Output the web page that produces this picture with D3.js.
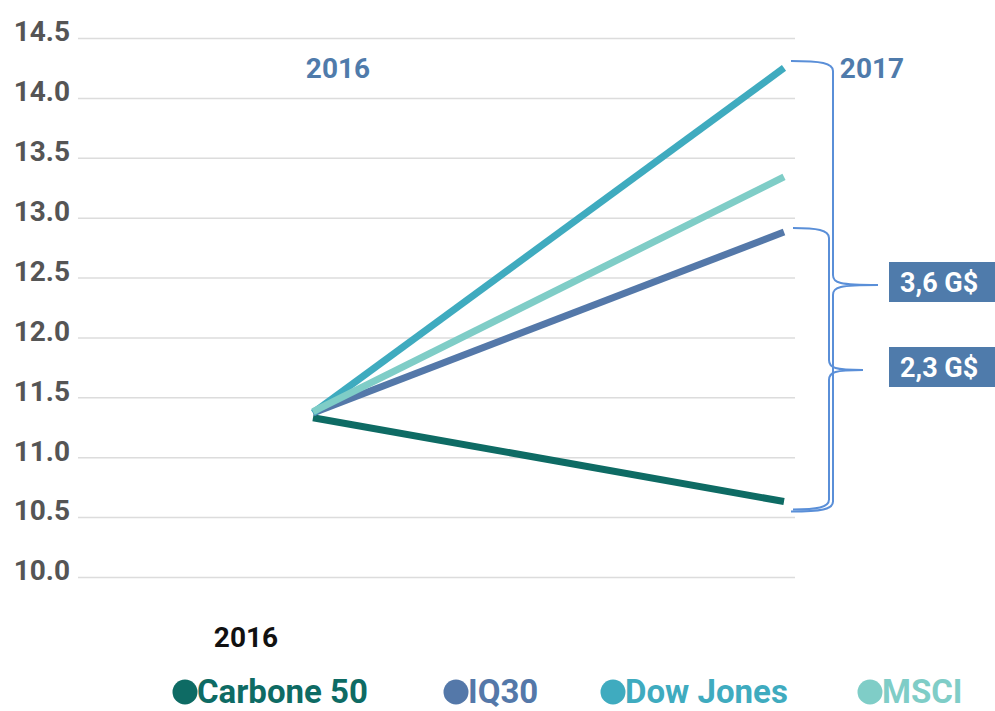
<!DOCTYPE html>
<html>
<head>
<meta charset="utf-8">
<script src="https://cdn.jsdelivr.net/npm/d3@7/dist/d3.min.js"></script>
<style>
  body { margin: 0; background: #fff; }
  svg { display: block; font-family: Roboto, "DejaVu Sans", sans-serif; font-weight: 700; }
</style>
</head>
<body>
<svg id="chart" width="995" height="711"></svg>
<script>
// data
var years = ["2016", "2017"];
var seriesNames = ["Carbone 50", "IQ30", "Dow Jones", "MSCI"];
var carbone50 = [11.33, 10.63];
var iq30 = [11.37, 12.88];
var dowJones = [11.37, 14.25];
var msci = [11.38, 13.34];
var seriesColors = ["#0e6b64", "#5478a9", "#3fabbf", "#7fcdc7"];
var yTicks = [10.0, 10.5, 11.0, 11.5, 12.0, 12.5, 13.0, 13.5, 14.0, 14.5];
var gapLabels = ["3,6 G$", "2,3 G$"];

var svg = d3.select("#chart");

var x = d3.scalePoint().domain(years).range([313, 784]);
var y = d3.scaleLinear().domain([10, 14.5]).range([577, 38]);

// grid + y labels
var yAxis = d3.axisLeft(y).tickValues(yTicks).tickFormat(d3.format(".1f"))
    .tickSize(-(795 - 78)).tickPadding(8);
var gy = svg.append("g").attr("transform", "translate(78,0)").call(yAxis);
gy.select(".domain").remove();
gy.selectAll(".tick line").attr("stroke", "#dcdcdc").attr("stroke-width", 1.5);
gy.selectAll(".tick text").attr("fill", "#555").attr("font-size", 28)
    .attr("font-family", "Roboto, sans-serif").attr("font-weight", 700).attr("dy", "0.1em");

// lines
var allSeries = [carbone50, iq30, dowJones, msci];
var line = d3.line().x(function(d, i){ return x(years[i]); }).y(function(d){ return y(d); });
allSeries.forEach(function(s, i){
    svg.append("path").attr("d", line(s)).attr("fill", "none")
        .attr("stroke", seriesColors[i]).attr("stroke-width", 7);
});

// year labels
svg.append("text").attr("x", x("2016") + 25).attr("y", 78).attr("text-anchor", "middle")
    .attr("fill", "#4f7bab").attr("font-size", 28).text("2016");
svg.append("text").attr("x", x("2017") + 88).attr("y", 78).attr("text-anchor", "middle")
    .attr("fill", "#4f7bab").attr("font-size", 28).text("2017");
svg.append("text").attr("x", 246).attr("y", 647).attr("text-anchor", "middle")
    .attr("fill", "#111").attr("font-size", 28).text("2016");

// curly brackets
function brace(x0, top, bottom, xv, tipX, tipY){
    var r = 10;
    var p = d3.path();
    p.moveTo(x0, top);
    p.bezierCurveTo(xv - 12, top, xv, top + 2, xv, top + r);
    p.lineTo(xv, tipY - 10);
    p.bezierCurveTo(xv, tipY - 2, xv + 6, tipY, tipX, tipY);
    p.bezierCurveTo(xv + 6, tipY, xv, tipY + 2, xv, tipY + 10);
    p.lineTo(xv, bottom - r);
    p.bezierCurveTo(xv, bottom - 2, xv - 12, bottom, x0, bottom);
    return p.toString();
}
var xe = x("2017");
svg.append("path")
    .attr("d", brace(xe + 7, y(dowJones[1]) - 7, y(carbone50[1]) + 10, xe + 49, xe + 94, 285))
    .attr("fill", "none").attr("stroke", "#5a8fd8").attr("stroke-width", 2);
svg.append("path")
    .attr("d", brace(xe + 9, y(iq30[1]) - 4, y(carbone50[1]) + 8, xe + 45, xe + 79, 370))
    .attr("fill", "none").attr("stroke", "#5a8fd8").attr("stroke-width", 2);

// value boxes
var boxY = [262, 347];
gapLabels.forEach(function(t, i){
    svg.append("rect").attr("x", 889).attr("y", boxY[i]).attr("width", 106).attr("height", 40)
        .attr("fill", "#4f7bab");
    svg.append("text").attr("x", 900).attr("y", boxY[i] + 30).attr("fill", "#fff")
        .attr("font-size", 27).text(t);
});

// legend
var legendX = [185, 456, 613, 870];
seriesNames.forEach(function(n, i){
    svg.append("circle").attr("cx", legendX[i]).attr("cy", 692).attr("r", 12.5)
        .attr("fill", seriesColors[i]);
    svg.append("text").attr("x", legendX[i] + 12).attr("y", 703).attr("fill", seriesColors[i])
        .attr("font-size", 33).text(n);
});
</script>
</body>
</html>
